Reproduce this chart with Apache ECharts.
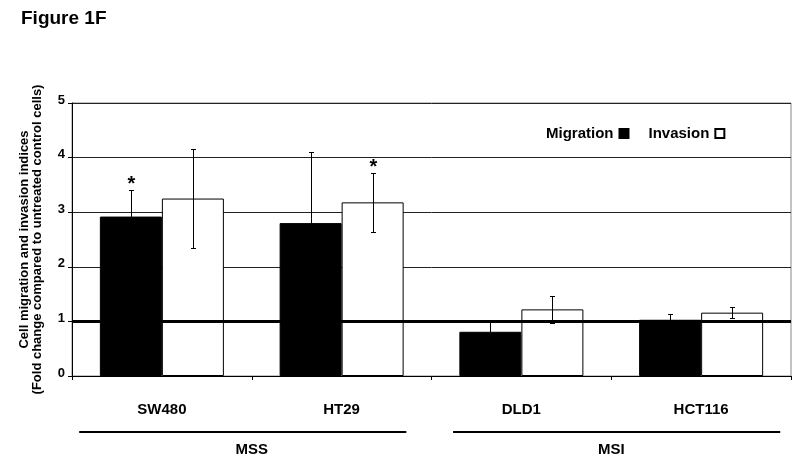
<!DOCTYPE html>
<html>
<head>
<meta charset="utf-8">
<script src="https://cdn.jsdelivr.net/npm/echarts@6/dist/echarts.min.js"></script>
<style>
html,body{margin:0;padding:0;background:#fff;}
#chart{width:800px;height:458px;}
</style>
</head>
<body>
<div id="chart"></div>
<script>
// ---- data ----
const categories = ['SW480', 'HT29', 'DLD1', 'HCT116'];
const migration = [2.92, 2.80, 0.81, 1.03];
const migrationErr = [0.49, 1.30, 0.20, 0.10];
const invasion = [3.25, 3.18, 1.22, 1.16];
const invasionErr = [0.90, 0.54, 0.25, 0.10];
const migrationSig = ['*', '', '', ''];
const invasionSig = ['', '*', '', ''];
const groups = ['MSS', 'MSI'];
const groupSpans = [[0, 1], [2, 3]];
const yMin = 0, yMax = 5, yStep = 1;
const referenceLevel = 1;

// ---- style ----
const FONT = "'Liberation Sans', Arial, sans-serif";
const BAR_FRAC = 0.345;
const groupLineInset = [[0.46, 0.36], [0.38, 0.44]];

const chart = echarts.init(document.getElementById('chart'), null, {renderer: 'canvas'});

function errRenderer(sign, sigArr) {
  return function (params, api) {
    const i = api.value(0), v = api.value(1), e = api.value(2);
    const band = api.size([1, 0])[0];
    const bw = band * BAR_FRAC;
    const c = api.coord([i, v]);
    const x = Math.round(c[0] + sign * bw / 2) + 0.5;
    const top = Math.round(api.coord([i, v + e])[1]) + 0.5;
    const bot = Math.round(api.coord([i, v - e])[1]) + 0.5;
    const st = {stroke: '#000', lineWidth: 1};
    const children = [
      {type: 'line', shape: {x1: x, y1: top, x2: x, y2: bot}, style: st},
      {type: 'line', shape: {x1: x - 2.5, y1: top, x2: x + 2.5, y2: top}, style: st},
      {type: 'line', shape: {x1: x - 2.5, y1: bot, x2: x + 2.5, y2: bot}, style: st}
    ];
    const s = sigArr[params.dataIndex];
    if (s) {
      children.push({type: 'text', style: {text: s, x: x, y: top - 6, align: 'center', verticalAlign: 'middle',
        font: 'bold 20px ' + FONT, fill: '#000'}});
    }
    return {type: 'group', children: children};
  };
}

const option = {
  animation: false,
  backgroundColor: '#fff',
  title: {
    text: 'Figure 1F', left: 16, top: 4,
    textStyle: {fontFamily: FONT, fontWeight: 'bold', fontSize: 19, color: '#000'}
  },
  legend: {
    data: ['Migration', 'Invasion'],
    left: 546, top: 126, padding: 0,
    align: 'right', icon: 'rect', itemWidth: 9, itemHeight: 9, itemGap: 19,
    textStyle: {fontFamily: FONT, fontWeight: 'bold', fontSize: 15, color: '#000', padding: [0, 1, 0, 0]}
  },
  grid: {left: 72, right: 9, top: 103, bottom: 82, show: true, borderColor: '#888', borderWidth: 1},
  xAxis: [{
    type: 'category', data: categories, boundaryGap: true,
    axisLine: {lineStyle: {color: '#000', width: 1}},
    axisTick: {show: true, length: 4, lineStyle: {color: '#000'}},
    axisLabel: {fontFamily: FONT, fontWeight: 'bold', fontSize: 15, color: '#000', margin: 26},
    splitLine: {show: false}
  }, {
    type: 'category', data: groups, position: 'bottom', offset: 0,
    axisLine: {show: false}, axisTick: {show: false}, splitLine: {show: false},
    axisLabel: {fontFamily: FONT, fontWeight: 'bold', fontSize: 15, color: '#000', margin: 66}
  }],
  yAxis: {
    type: 'value', min: yMin, max: yMax, interval: yStep,
    name: 'Cell migration and invasion indices\n(Fold change compared to untreated control cells)',
    nameLocation: 'middle', nameRotate: 90, nameGap: 28,
    nameTextStyle: {fontFamily: FONT, fontWeight: 'bold', fontSize: 13, color: '#000', lineHeight: 13},
    axisLine: {show: true, lineStyle: {color: '#000', width: 1}},
    axisTick: {show: true, length: 4, lineStyle: {color: '#000'}},
    axisLabel: {fontFamily: FONT, fontWeight: 'bold', fontSize: 13, color: '#000', margin: 7,
      verticalAlign: 'bottom', lineHeight: 6},
    splitLine: {show: true, lineStyle: {color: '#222', width: 1}}
  },
  series: [
    {
      name: 'ref', type: 'line', data: [], z: 1, silent: true,
      markLine: {
        silent: true, symbol: 'none', label: {show: false},
        lineStyle: {color: '#000', width: 3, type: 'solid'},
        data: [{yAxis: referenceLevel}]
      }
    },
    {
      name: 'Migration', type: 'bar', data: migration, barWidth: (BAR_FRAC * 100) + '%', barGap: '0%', z: 2,
      itemStyle: {color: '#000', borderColor: '#000', borderWidth: 1}
    },
    {
      name: 'Invasion', type: 'bar', data: invasion, barWidth: (BAR_FRAC * 100) + '%', barGap: '0%', z: 2,
      itemStyle: {color: '#fff', borderColor: '#000', borderWidth: 1}
    },
    {
      type: 'custom', z: 3, silent: true,
      renderItem: errRenderer(-1, migrationSig),
      encode: {x: 0, y: 1},
      data: categories.map((c, i) => [i, migration[i], migrationErr[i]])
    },
    {
      type: 'custom', z: 3, silent: true,
      renderItem: errRenderer(1, invasionSig),
      encode: {x: 0, y: 1},
      data: categories.map((c, i) => [i, invasion[i], invasionErr[i]])
    }
  ]
};

chart.setOption(option);

// group underline bars (MSS / MSI), positioned from the category scale
const band = chart.convertToPixel({xAxisIndex: 0}, categories[1]) - chart.convertToPixel({xAxisIndex: 0}, categories[0]);
const lineY = 432;
const graphics = groupSpans.map((span, g) => {
  const x1 = chart.convertToPixel({xAxisIndex: 0}, categories[span[0]]) - band * groupLineInset[g][0];
  const x2 = chart.convertToPixel({xAxisIndex: 0}, categories[span[1]]) + band * groupLineInset[g][1];
  return {type: 'line', shape: {x1: x1, y1: lineY, x2: x2, y2: lineY}, style: {stroke: '#000', lineWidth: 2}, silent: true};
});
chart.setOption({graphic: graphics});
</script>
</body>
</html>
